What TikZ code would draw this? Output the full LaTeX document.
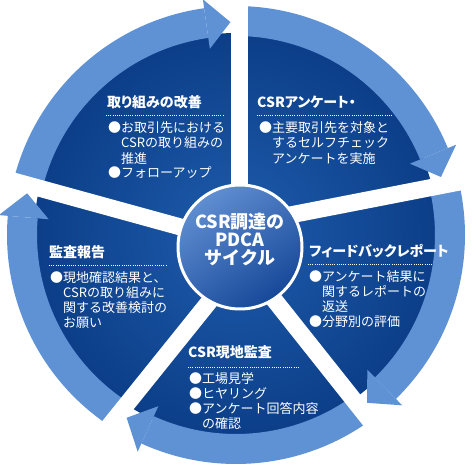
\documentclass[tikz,border=0pt]{standalone}
\usepackage{fontspec}
\setmainfont{Noto Sans CJK JP}
\newfontfamily\jptitle{Noto Sans CJK JP}[RawFeature=+palt]
\definecolor{band}{RGB}{95,146,212}
\definecolor{darkin}{RGB}{30,92,172}
\definecolor{darkout}{RGB}{12,62,136}
\definecolor{circA}{RGB}{96,142,210}
\definecolor{circB}{RGB}{22,72,152}
\begin{document}
\begin{tikzpicture}[x=1pt,y=1pt,
  spoke/.style={white,line width=17pt},
  dotline/.style={white,line width=0.6pt,dash pattern=on 1pt off 1.2pt},
  ttl/.style={text=white,anchor=base west,inner sep=0pt,font=\jptitle\bfseries\fontsize{14}{16}\selectfont},
  body/.style={text=white,anchor=base west,inner sep=0pt,font=\fontsize{13}{15}\selectfont},
  ctext/.style={text=white,anchor=base,inner sep=0pt,font=\bfseries\fontsize{18}{20}\selectfont}]
\useasboundingbox (0,0) rectangle (475,-473);
\fill[white] (0,0) rectangle (475,-473);
\coordinate (O) at (236,-235);
% dark disc and bands
\begin{scope}[shift={(O)}]
  \shade[inner color=darkin,outer color=darkout] (0,0) circle[radius=202];
  \fill[band] (166.4:229) arc[start angle=166.4,end angle=98,radius=229] -- (98:199) arc[start angle=98,end angle=166.4,radius=199] -- cycle;
  \fill[band] (89.2:229) arc[start angle=89.2,end angle=22.3,radius=229] -- (22.3:199) arc[start angle=22.3,end angle=89.2,radius=199] -- cycle;
  \fill[band] (13.5:229) arc[start angle=13.5,end angle=-45.7,radius=229] -- (-45.7:199) arc[start angle=-45.7,end angle=13.5,radius=199] -- cycle;
  \fill[band] (-54.3:229) arc[start angle=-54.3,end angle=-114.4,radius=229] -- (-114.4:199) arc[start angle=-114.4,end angle=-54.3,radius=199] -- cycle;
  \fill[band] (236.8:229) arc[start angle=236.8,end angle=175.2,radius=229] -- (175.2:199) arc[start angle=175.2,end angle=236.8,radius=199] -- cycle;
\end{scope}
% spokes
\coordinate (s1a) at (239,-195); \coordinate (s1b) at (239,5);
\coordinate (s2a) at (285,-216); \coordinate (s2b) at (480,-178);
\coordinate (s3a) at (262.7,-285.3); \coordinate (s3b) at (380,-433);
\coordinate (s4a) at (222.4,-285.3); \coordinate (s4b) at (98,-440);
\coordinate (s5a) at (191.5,-230); \coordinate (s5b) at (-5,-176);
\draw[spoke] (s1a) -- (s1b);
\draw[spoke] (s2a) -- (s2b);
\draw[spoke] (s3a) -- (s3b);
\draw[spoke] (s4a) -- (s4b);
\draw[spoke] (s5a) -- (s5b);
% arrow heads
\begin{scope}[shift={(O)}]
  \fill[band] (98:238) -- (91.5:213) -- (98:188) -- cycle;
  \fill[band] (22.3:238) -- (15.8:213) -- (22.3:188) -- cycle;
  \fill[band] (-45.7:238) -- (-52.0:213) -- (-45.7:188) -- cycle;
  \fill[band] (-114.4:238) -- (-120.9:213) -- (-114.4:188) -- cycle;
  \fill[band] (175.2:238) -- (168.7:213) -- (175.2:188) -- cycle;
\end{scope}
% centre
\node[circle,minimum size=124pt,inner sep=0pt,draw=white,line width=3pt,top color=circA,bottom color=circB,shading angle=35] (hub) at (240,-247) {};
\node[ctext] (c1) at (240,-228.5) {CSR調達の};
\node[ctext] (c2) at (240,-246.5) {PDCA};
\node[ctext] (c3) at (240,-264.5) {サイクル};
% top-left
\node[ttl] (tlt) at (107,-108) {取り組みの改善};
\draw[dotline] (106,-115.5) -- (223,-115.5);
\node[body] (tl1) at (108,-133) {●お取引先における};
\node[body] (tl2) at (121,-148) {CSRの取り組みの};
\node[body] (tl3) at (121,-163.5) {推進};
\node[body] (tl4) at (108,-177.5) {●フォローアップ};
% top-right
\node[ttl] (trt) at (257,-108) {CSRアンケート・};
\draw[dotline] (257,-115.5) -- (392,-115.5);
\node[body] (tr1) at (259,-133) {●主要取引先を対象と};
\node[body] (tr2) at (272,-148) {するセルフチェック};
\node[body] (tr3) at (272,-163.5) {アンケートを実施};
% right
\node[ttl] (rt) at (309,-257) {フィードバックレポート};
\draw[dotline] (308,-264) -- (433,-264);
\node[body] (r1) at (309,-282) {●アンケート結果に};
\node[body] (r2) at (322,-297) {関するレポートの};
\node[body] (r3) at (322,-312) {返送};
\node[body] (r4) at (309,-327) {●分野別の評価};
% bottom
\node[ttl] (bt) at (188,-358) {CSR現地監査};
\draw[dotline] (188,-367) -- (300,-367);
\node[body] (b1) at (189,-384) {●工場見学};
\node[body] (b2) at (189,-399) {●ヒヤリング};
\node[body] (b3) at (189,-414) {●アンケート回答内容};
\node[body] (b4) at (202,-429) {の確認};
% left
\node[ttl] (lt) at (49,-258) {監査報告};
\draw[dotline] (49,-265) -- (167,-265);
\node[body] (l1) at (50,-283) {●現地確認結果と、};
\node[body] (l2) at (63,-298) {CSRの取り組みに};
\node[body] (l3) at (63,-313) {関する改善検討の};
\node[body] (l4) at (63,-328) {お願い};
\end{tikzpicture}
\end{document}
